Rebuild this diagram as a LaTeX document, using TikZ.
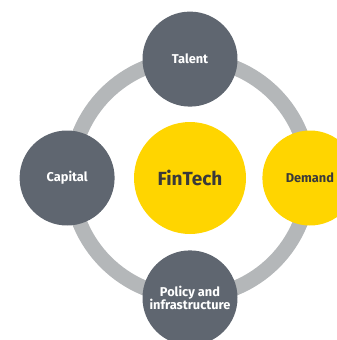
\documentclass[tikz,border=0pt]{standalone}
\usepackage{fontspec}
\setmainfont{Fira Sans}
\usetikzlibrary{positioning}
\definecolor{slate}{HTML}{5F6670}
\definecolor{ringgray}{HTML}{B4B7B9}
\definecolor{eyyellow}{HTML}{FFD500}
\definecolor{darktext}{HTML}{3A3A3A}

\begin{document}
\begin{tikzpicture}[
		  x=1pt,y=1pt,
		  node distance=16pt,
		  pillar/.style={circle,fill=slate,text=white,inner sep=0pt,minimum size=95pt,align=center,font=\bfseries\fontsize{12.8}{13}\selectfont},
		  hub/.style={circle,fill=eyyellow,text=darktext,inner sep=0pt,minimum size=112pt,font=\bfseries\fontsize{19}{20}\selectfont}
		]
		\useasboundingbox (0,0) rectangle (337,-340);
		\coordinate (centre) at (190,-178);
		\draw[ringgray,line width=15pt] (centre) circle[radius=119pt];
		\node[hub] (FinTech) at (centre) {FinTech};
		\node[pillar, above=15pt of FinTech] (Talent) {Talent};
		\node[pillar, left=19pt of FinTech] (Capital) {Capital};
		\node[pillar, below=of FinTech] (Policy) {Policy and\\[-1pt]infrastructure};
		\node[pillar, right=of FinTech, fill=eyyellow, text=darktext] (Demand) {Demand};
		\end{tikzpicture}
\end{document}
